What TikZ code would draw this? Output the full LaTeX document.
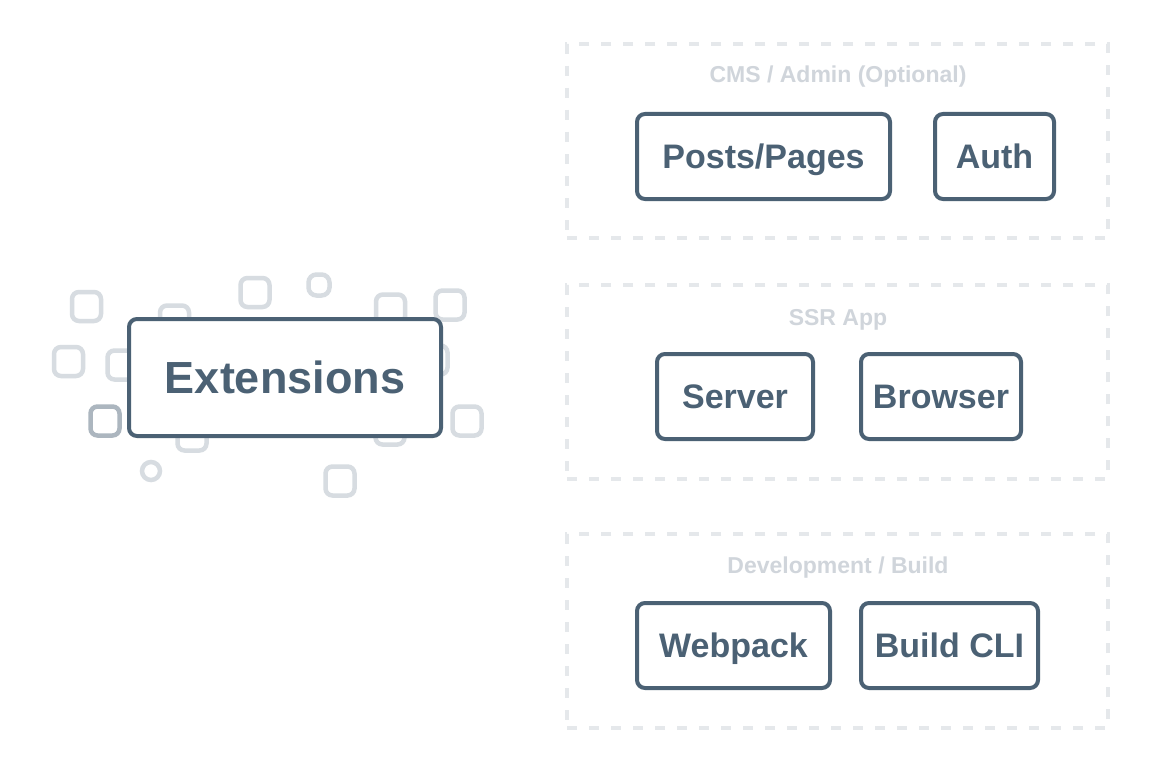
\documentclass[tikz,border=0pt]{standalone}
\usepackage{fontspec}
\setmainfont{Liberation Sans}
\definecolor{slate}{RGB}{75,97,116}
\definecolor{dashgray}{RGB}{229,232,235}
\definecolor{titlegray}{RGB}{208,213,219}
\definecolor{decogray}{RGB}{215,220,225}
\definecolor{decodark}{RGB}{172,182,191}
\newcommand{\decosq}[3][decogray]{%
  \draw[deco, draw=#1] ({#2-14.5},{#3-14.5}) rectangle ({#2+14.5},{#3+14.5});}
\begin{document}
\begin{tikzpicture}[x=1pt,y=-1pt,
  box/.style={draw=slate, line width=4pt, rounded corners=8pt, fill=white, text=slate,
    font=\fontsize{34}{40}\selectfont\bfseries, inner sep=0pt, text height=24.5pt, text depth=0pt},
  bigbox/.style={box, font=\fontsize{45}{52}\selectfont\bfseries, text height=32pt},
  group/.style={draw=dashgray, line width=4pt, dash pattern=on 10pt off 12pt, inner sep=0pt},
  gtitle/.style={text=titlegray, font=\fontsize{23}{27}\selectfont\bfseries, inner sep=0pt, anchor=base},
  deco/.style={line width=4.5pt, rounded corners=7pt}]
\useasboundingbox (0,0) rectangle (1172,773);
\fill[white] (0,0) rectangle (1172,773);

% group frames
\node[group, minimum width=541pt, minimum height=194pt] (cms) at (837.5,141) {};
\node[group, minimum width=541pt, minimum height=194pt] (ssr) at (837.5,382) {};
\node[group, minimum width=541pt, minimum height=194pt] (dev) at (837.5,631) {};

\node[gtitle] (cmst) at (838,83) {CMS / Admin (Optional)};
\node[gtitle] (ssrt) at (838,325) {SSR App};
\node[gtitle] (devt) at (838,573) {Development / Build};

% boxes
\node[box, minimum width=253pt, minimum height=85pt] (posts) at (763.5,156.5) {Posts/Pages};
\node[box, minimum width=119pt, minimum height=85pt] (auth) at (994.5,156.5) {Auth};
\node[box, minimum width=156pt, minimum height=85pt] (server) at (735,396.5) {Server};
\node[box, minimum width=160pt, minimum height=85pt] (browser) at (941,396.5) {Browser};
\node[box, minimum width=193pt, minimum height=85pt] (webpack) at (733.5,645.5) {Webpack};
\node[box, minimum width=177pt, minimum height=85pt] (buildcli) at (949.5,645.5) {Build CLI};

% scattered squares
\decosq{86.5}{306.5}
\decosq{174.5}{320}
\decosq{68.5}{361.5}
\decosq{122}{365}
\decosq[decodark]{105}{421}
\decosq{192}{436}
\draw[deco, draw=decogray, rounded corners=9pt] (142,462) rectangle (160,480);
\decosq{255}{292.5}
\draw[deco, draw=decogray, rounded corners=8pt] (308.5,274.5) rectangle (329.5,295.5);
\decosq{390.5}{309}
\decosq{450}{305}
\decosq{433}{360}
\decosq{467}{421}
\decosq{390}{430}
\decosq{340}{481}

\node[bigbox, minimum width=312pt, minimum height=117pt] (ext) at (285,377.5) {Extensions};
\end{tikzpicture}
\end{document}
